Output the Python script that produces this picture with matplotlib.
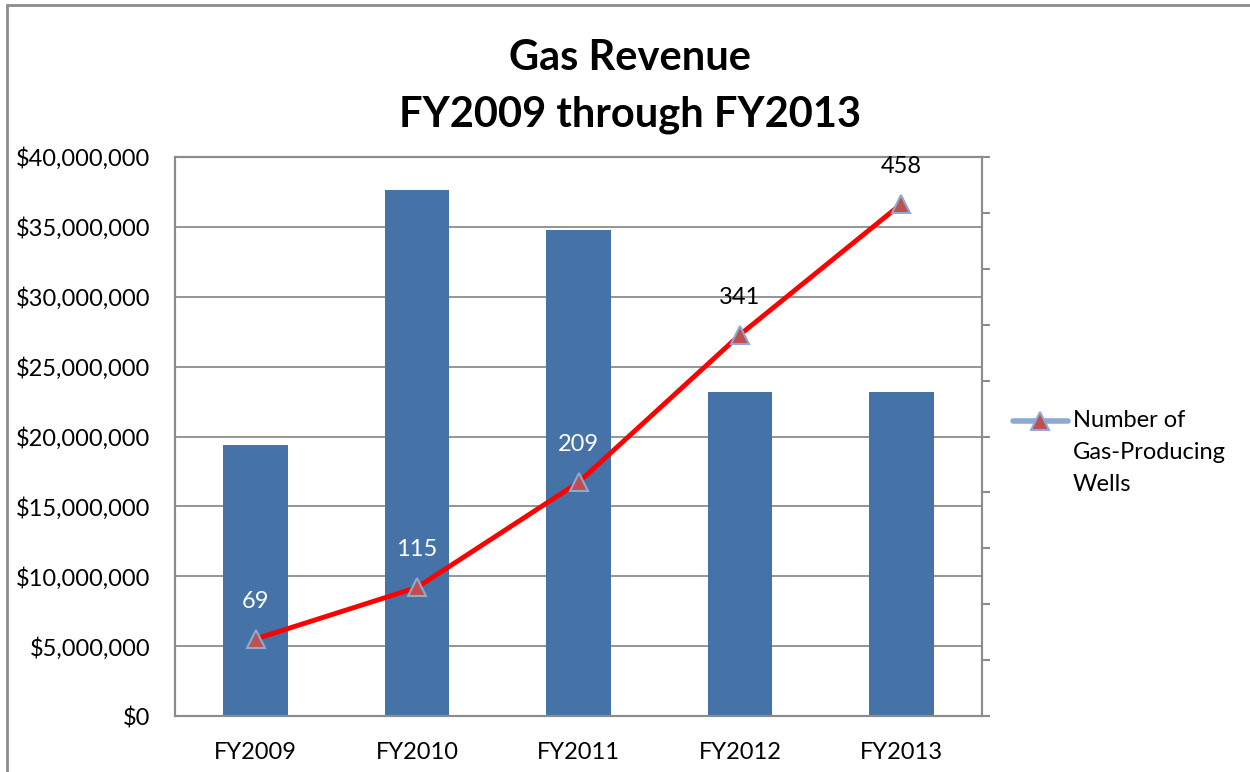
import matplotlib.pyplot as plt
from matplotlib.lines import Line2D
from matplotlib.ticker import FuncFormatter, MultipleLocator

# Data
years   = ["FY2009", "FY2010", "FY2011", "FY2012", "FY2013"]
revenue = [19400000, 37650000, 34750000, 23150000, 23150000]
wells   = [69, 115, 209, 341, 458]

bar_color  = "#4573A7"
grid_color = "#8C8C8C"

plt.rcParams['font.family'] = ['Lato', 'DejaVu Sans']

fig = plt.figure(figsize=(12.5, 7.72), dpi=100)
W, H = 1250, 772

# Outer chart border
fig.patches.append(plt.Rectangle((7 / W, -0.01), 1.2, (H - 5) / H + 0.01,
                                 transform=fig.transFigure, fill=False,
                                 edgecolor="#8C8C8C", linewidth=2))

ax = fig.add_axes([175 / W, 1 - 716 / H, (982 - 175) / W, (716 - 157) / H])
x = range(len(years))
ax.bar(x, revenue, width=0.4, color=bar_color, zorder=2)

ax.set_xlim(-0.5, len(years) - 0.5)
ax.set_ylim(0, 40000000)
ax.yaxis.set_major_locator(MultipleLocator(5000000))
ax.yaxis.set_major_formatter(FuncFormatter(lambda v, p: f"${v:,.0f}"))
ax.set_xticks(list(x))
ax.set_xticklabels(years)
ax.tick_params(axis="both", length=0, labelsize=17)
ax.tick_params(axis="x", pad=19)
ax.tick_params(axis="y", pad=18)
ax.grid(axis="y", color=grid_color, linewidth=1.3, zorder=0)
for s in ax.spines.values():
    s.set_color(grid_color)
    s.set_linewidth(1.5)

# Secondary axis for well count
ax2 = ax.twinx()
ax2.set_ylim(0, 500)
ax2.yaxis.set_major_locator(MultipleLocator(50))
ax2.tick_params(axis="y", length=6, width=1.5, color=grid_color, labelright=False)
for s in ax2.spines.values():
    s.set_color(grid_color)
    s.set_linewidth(1.5)
ax2.plot(x, wells, color="#FF0000", linewidth=3.5, zorder=3)
ax2.plot(x, wells, linestyle="none", marker="^", markersize=13,
         markerfacecolor="#C0504D", markeredgecolor="#8EA9D4",
         markeredgewidth=1.5, zorder=4)

label_colors = ["white", "white", "white", "black", "black"]
for xi, w, c in zip(x, wells, label_colors):
    ax2.annotate(str(w), (xi, w), xytext=(0, 27), textcoords="offset points",
                 ha="center", va="center", fontsize=17, color=c)

fig.text(630 / W, 1 - 58 / H, "Gas Revenue", ha="center", va="center",
         fontsize=30, fontweight="bold")
fig.text(630 / W, 1 - 115 / H, "FY2009 through FY2013", ha="center", va="center",
         fontsize=30, fontweight="bold")

# Legend
fig.add_artist(Line2D([1013 / W, 1068 / W], [1 - 421 / H, 1 - 421 / H],
                      color="#8EA9D4", linewidth=4, solid_capstyle="round"))
fig.add_artist(Line2D([1040 / W], [1 - 421 / H], linestyle="none", marker="^",
                      markersize=13, markerfacecolor="#C0504D",
                      markeredgecolor="#8EA9D4", markeredgewidth=1.5))
fig.text(1073 / W, 1 - 410 / H, "Number of\nGas-Producing\nWells", ha="left", va="top",
         fontsize=17, linespacing=1.65)

fig.savefig("out.png", dpi=100)
